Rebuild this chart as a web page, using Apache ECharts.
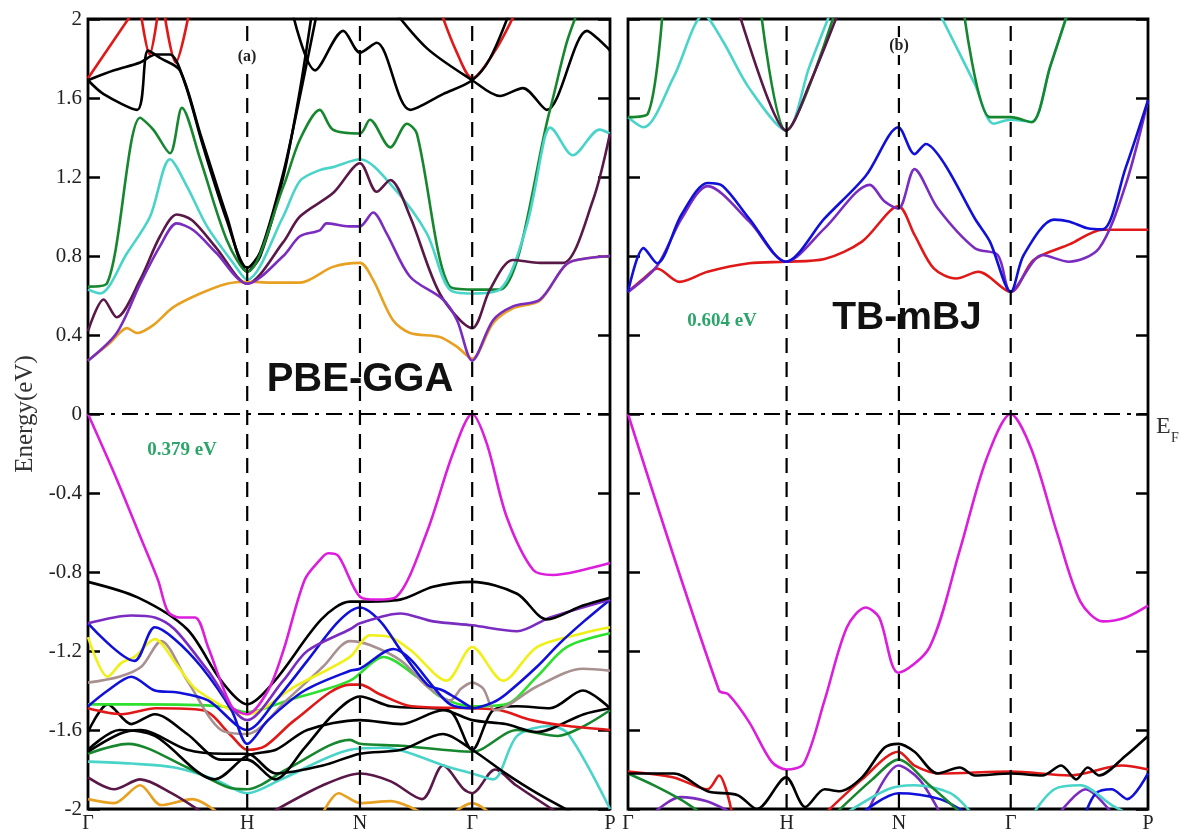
<!DOCTYPE html>
<html><head><meta charset="utf-8">
<script src="https://cdn.jsdelivr.net/npm/echarts@6/dist/echarts.min.js"></script>
<style>html,body{margin:0;padding:0;background:#fff}#c{width:1189px;height:834px}</style>
</head><body><div id="c"></div>
<script>
// ---------- axes ----------
const K_POS = [0, 0.305, 0.521, 0.736, 1.0];
const K_LABELS = ['Γ', 'H', 'N', 'Γ', 'P'];
const E_MIN = -2, E_MAX = 2, E_STEP = 0.4;

// ---------- PBE-GGA (panel a) conduction bands ----------
const gga_cb_orange = [[0,.27],[.042,.36],[.075,.435],[.094,.41],[.125,.45],[.163,.54],[.215,.61],[.266,.66],[.305,.67],[.35,.665],[.406,.665],[.469,.745],[.521,.765],[.546,.68],[.584,.476],[.617,.41],[.674,.39],[.707,.34],[.736,.28],[.776,.46],[.814,.535],[.866,.575],[.917,.76],[.96,.79],[1,.80]];
const gga_cb_purple = [[0,.27],[.055,.41],[.1,.66],[.138,.85],[.17,.965],[.202,.93],[.246,.815],[.305,.66],[.374,.8],[.406,.9],[.444,.93],[.457,.965],[.5,.95],[.521,.95],[.546,1.02],[.572,.915],[.617,.695],[.68,.58],[.707,.475],[.736,.27],[.776,.475],[.814,.545],[.866,.58],[.917,.76],[.96,.79],[1,.80]];
const gga_cb_maroon = [[0,.42],[.03,.58],[.055,.49],[.1,.68],[.138,.9],[.17,1.01],[.2,.98],[.246,.84],[.305,.66],[.374,.87],[.406,1.0],[.47,1.12],[.521,1.27],[.553,1.125],[.579,1.185],[.617,1.0],[.674,.61],[.736,.435],[.77,.63],[.814,.78],[.866,.765],[.91,.765],[.967,1.08],[1,1.42]];
const gga_cb_cyan = [[0,.63],[.023,.61],[.075,.815],[.119,1.0],[.157,1.29],[.19,1.15],[.228,.95],[.278,.765],[.305,.68],[.374,1.0],[.406,1.18],[.444,1.235],[.469,1.25],[.521,1.29],[.584,1.15],[.649,.915],[.693,.63],[.736,.61],[.789,.63],[.84,.95],[.875,1.4],[.885,1.45],[.929,1.31],[.98,1.44],[1,1.42]];
const gga_cb_green = [[0,.645],[.036,.66],[.1,1.5],[.125,1.44],[.157,1.32],[.18,1.55],[.215,1.29],[.266,.88],[.305,.72],[.374,1.15],[.406,1.39],[.444,1.54],[.469,1.44],[.521,1.42],[.54,1.49],[.579,1.35],[.611,1.47],[.63,1.42],[.693,.645],[.736,.63],[.789,.63],[.885,1.54],[.917,1.88],[.94,2.05]];
const gga_cb_black1 = [[0,1.69],[.03,1.62],[.094,1.54],[.115,1.84],[.14,1.8],[.176,1.74],[.215,1.42],[.266,1.0],[.305,.72],[.33,.8],[.374,1.2],[.406,1.64],[.43,2.05]];
const gga_cb_black2 = [[0,1.69],[.05,1.74],[.1,1.78],[.13,1.82],[.157,1.82],[.185,1.68],[.22,1.36],[.266,.98],[.305,.74],[.33,.82],[.374,1.22],[.41,1.66],[.44,2.05]];
const gga_cb_black3 = [[.39,2.05],[.435,1.74],[.489,1.94],[.521,1.83],[.553,1.88],[.617,1.54],[.68,1.62],[.736,1.69],[.77,1.8],[.81,2.05]];
const gga_cb_black4 = [[.584,2.05],[.65,1.85],[.736,1.69],[.789,1.61],[.833,1.65],[.879,1.54],[.956,1.94],[.981,1.89],[1,1.84]];
const gga_cb_red = [[0,1.7],[.09,2.05],null,[.1,2.05],[.118,1.82],[.135,2.05],null,[.145,2.05],[.168,1.78],[.195,2.05],null,[.674,2.05],[.705,1.84],[.736,1.7],[.78,1.84],[.822,2.05]];

// ---------- PBE-GGA (panel a) valence bands ----------
const gga_vb_magenta = [[0,0],[.055,-.33],[.1,-.62],[.134,-.84],[.153,-1.0],[.175,-1.03],[.205,-1.03],[.23,-1.18],[.275,-1.48],[.305,-1.52],[.345,-1.4],[.374,-1.2],[.415,-.84],[.444,-.74],[.46,-.705],[.48,-.72],[.521,-.925],[.553,-.94],[.591,-.925],[.649,-.6],[.699,-.2],[.736,0],[.764,-.15],[.802,-.52],[.853,-.79],[.891,-.815],[.948,-.79],[1,-.755]];
const gga_vb_black1 = [[0,-.85],[.096,-.93],[.19,-1.09],[.255,-1.35],[.305,-1.47],[.358,-1.35],[.447,-1.04],[.502,-.95],[.521,-.95],[.598,-.94],[.661,-.875],[.736,-.85],[.822,-.91],[.879,-1.04],[.948,-.97],[1,-.93]];
const gga_vb_purple = [[0,-1.06],[.083,-1.02],[.128,-1.03],[.166,-1.09],[.23,-1.3],[.305,-1.55],[.374,-1.35],[.42,-1.2],[.502,-1.09],[.521,-1.06],[.598,-1.01],[.661,-1.05],[.736,-1.07],[.822,-1.1],[.885,-1.03],[1,-.94]];
const gga_vb_blue1 = [[0,-1.06],[.089,-1.25],[.128,-1.08],[.166,-1.14],[.217,-1.28],[.275,-1.5],[.305,-1.67],[.345,-1.55],[.415,-1.4],[.502,-1.3],[.521,-1.29],[.585,-1.19],[.617,-1.24],[.661,-1.38],[.694,-1.47],[.736,-1.49],[.776,-1.46],[.8,-1.42],[.86,-1.28],[.904,-1.16],[.95,-1.05],[1,-.94]];
const gga_vb_blue2 = [[0,-1.48],[.038,-1.4],[.083,-1.33],[.128,-1.4],[.172,-1.41],[.23,-1.45],[.305,-1.6],[.36,-1.45],[.42,-1.25],[.48,-1.05],[.521,-.98],[.56,-1.05],[.6,-1.2],[.65,-1.37],[.68,-1.4],[.7,-1.43],[.736,-1.49]];
const gga_vb_yellow = [[0,-1.13],[.038,-1.33],[.064,-1.26],[.089,-1.23],[.128,-1.14],[.17,-1.27],[.21,-1.4],[.305,-1.52],[.396,-1.38],[.502,-1.23],[.54,-1.12],[.58,-1.13],[.62,-1.2],[.687,-1.35],[.736,-1.18],[.795,-1.35],[.86,-1.18],[.948,-1.11],[1,-1.08]];
const gga_vb_gray = [[0,-1.36],[.06,-1.33],[.102,-1.28],[.14,-1.15],[.19,-1.35],[.255,-1.6],[.305,-1.62],[.38,-1.45],[.45,-1.28],[.502,-1.15],[.54,-1.17],[.6,-1.25],[.65,-1.38],[.694,-1.45],[.715,-1.39],[.736,-1.36],[.757,-1.39],[.78,-1.5],[.86,-1.38],[.948,-1.29],[1,-1.3]];
const gga_vb_green = [[0,-1.47],[.1,-1.47],[.255,-1.48],[.305,-1.51],[.383,-1.45],[.502,-1.35],[.566,-1.23],[.63,-1.33],[.674,-1.43],[.736,-1.48],[.8,-1.47],[.86,-1.33],[.917,-1.18],[1,-1.11]];
const gga_vb_red = [[0,-1.49],[.064,-1.52],[.13,-1.49],[.22,-1.5],[.275,-1.63],[.305,-1.7],[.34,-1.68],[.396,-1.55],[.502,-1.37],[.521,-1.37],[.56,-1.42],[.62,-1.48],[.736,-1.49],[.79,-1.5],[.85,-1.55],[.92,-1.58],[1,-1.6]];
const gga_vb_black2 = [[0,-1.61],[.038,-1.47],[.083,-1.57],[.128,-1.52],[.19,-1.62],[.255,-1.75],[.305,-1.75],[.358,-1.85],[.415,-1.69],[.47,-1.52],[.521,-1.43],[.58,-1.48],[.69,-1.5],[.736,-1.70],[.776,-1.5],[.822,-1.48],[.885,-1.49],[.948,-1.4],[1,-1.49]];
const gga_vb_black3 = [[0,-1.70],[.06,-1.6],[.128,-1.63],[.243,-1.85],[.305,-1.73],[.36,-1.7],[.42,-1.6],[.521,-1.55],[.6,-1.57],[.68,-1.5],[.736,-1.55],[.8,-1.57],[.86,-1.61],[.95,-1.52],[1,-1.49]];
const gga_vb_black4 = [[0,-1.71],[.06,-1.62],[.1,-1.6],[.19,-1.7],[.26,-1.72],[.305,-1.72],[.36,-1.82],[.45,-1.78],[.521,-1.72],[.6,-1.7],[.68,-1.62],[.736,-1.70],[.8,-1.82],[.86,-1.92],[.95,-2.05]];
const gga_vb_dgreen = [[0,-1.72],[.077,-1.67],[.19,-1.79],[.268,-1.89],[.305,-1.9],[.38,-1.8],[.502,-1.65],[.521,-1.67],[.6,-1.68],[.736,-1.71],[.822,-1.6],[.9,-1.63],[.95,-1.58],[1,-1.5]];
const gga_vb_cyan = [[0,-1.76],[.083,-1.77],[.166,-1.79],[.243,-1.85],[.305,-1.92],[.37,-1.85],[.502,-1.70],[.566,-1.69],[.694,-1.79],[.736,-1.82],[.776,-1.85],[.822,-1.63],[.885,-1.58],[.92,-1.62],[1,-2.0]];
const gga_vb_dpurple = [[0,-1.84],[.05,-1.9],[.1,-1.85],[.16,-1.92],[.22,-2.02],null,[.35,-2.02],[.45,-1.88],[.521,-1.82],[.58,-1.86],[.64,-1.95],[.68,-1.78],[.72,-1.9],[.736,-1.92],[.78,-1.8],[.82,-1.88],[.9,-2.02]];
const gga_vb_orange = [[0,-1.95],[.05,-1.97],[.1,-1.88],[.14,-1.98],[.2,-1.95],[.25,-2.02],null,[.45,-2.02],[.48,-1.92],[.521,-1.97],[.58,-1.96],[.64,-2.02],null,[.7,-2.02],[.736,-1.97],[.77,-2.02]];

// ---------- TB-mBJ (panel b) ----------
const mbj_cb_red = [[0,.618],[.03,.686],[.056,.737],[.099,.669],[.153,.72],[.233,.763],[.304,.771],[.378,.785],[.45,.873],[.52,1.052],[.551,.907],[.588,.737],[.631,.686],[.674,.72],[.736,.618],[.78,.78],[.85,.86],[.913,.933],[1,.933]];
const mbj_cb_purple = [[0,.618],[.056,.75],[.103,.99],[.153,1.154],[.233,.975],[.304,.771],[.378,.94],[.465,1.16],[.493,1.077],[.52,1.04],[.551,1.24],[.595,1.044],[.667,.839],[.711,.805],[.736,.618],[.797,.805],[.848,.771],[.906,.839],[.957,1.16],[1,1.588]];
const mbj_cb_blue = [[0,.618],[.03,.84],[.056,.763],[.103,1.01],[.153,1.17],[.182,1.155],[.233,.99],[.304,.771],[.378,.99],[.457,1.205],[.52,1.452],[.551,1.316],[.573,1.367],[.609,1.265],[.667,.99],[.696,.873],[.736,.618],[.761,.805],[.819,.984],[.848,.975],[.884,.94],[.913,.935],[.957,1.246],[1,1.588]];
const mbj_cb_cyan = [[0,1.503],[.03,1.452],[.088,1.707],[.146,2.02],[.182,1.89],[.233,1.65],[.304,1.435],[.349,1.76],[.392,2.05],null,[.595,2.05],[.667,1.67],[.703,1.47],[.736,1.49],[.776,1.48],[.812,1.76],[.848,2.05]];
const mbj_cb_green = [[0,1.503],[.038,1.52],[.067,2.05],null,[.255,2.05],[.304,1.435],[.4,2.05],null,[.645,2.05],[.696,1.503],[.736,1.503],[.776,1.477],[.812,1.76],[.848,2.05]];
const mbj_cb_dpurple = [[.211,2.05],[.27,1.59],[.304,1.435],[.349,1.67],[.407,2.05]];
const mbj_vb_magenta = [[0,0],[.175,-1.4],[.193,-1.42],[.233,-1.56],[.276,-1.76],[.305,-1.8],[.338,-1.77],[.378,-1.45],[.421,-1.08],[.457,-.98],[.483,-1.03],[.52,-1.31],[.58,-1.18],[.638,-.69],[.689,-.23],[.736,0],[.776,-.18],[.826,-.61],[.87,-.95],[.913,-1.05],[.957,-1.03],[1,-.97]];
const mbj_vb_black = [[0,-1.82],[.088,-1.82],[.153,-1.91],[.211,-1.93],[.248,-2.0],[.304,-1.84],[.341,-1.99],[.378,-1.9],[.407,-1.91],[.45,-1.84],[.493,-1.69],[.52,-1.67],[.551,-1.71],[.595,-1.82],[.638,-1.79],[.667,-1.83],[.736,-1.82],[.797,-1.83],[.833,-1.78],[.862,-1.85],[.884,-1.79],[.906,-1.83],[.957,-1.73],[1,-1.63]];
const mbj_vb_red = [[0,-1.81],[.088,-1.84],[.153,-1.9],[.175,-1.83],[.2,-2.02],null,[.38,-2.02],[.45,-1.85],[.52,-1.71],[.551,-1.78],[.6,-1.82],[.736,-1.81],[.85,-1.83],[.95,-1.78],[1,-1.8]];
const mbj_vb_dgreen = [[0,-1.82],[.05,-1.88],[.1,-1.95],[.14,-2.02],null,[.4,-2.02],[.47,-1.85],[.52,-1.75],[.58,-1.88],[.64,-2.02]];
const mbj_vb_cyan = [[.42,-2.02],[.5,-1.9],[.55,-1.88],[.62,-1.92],[.66,-2.02],null,[.78,-2.02],[.82,-1.9],[.87,-1.88],[.93,-1.98],[.96,-2.02]];
const mbj_vb_blue = [[.45,-2.02],[.52,-1.92],[.6,-1.95],[.65,-2.02],null,[.88,-2.02],[.9,-1.92],[.93,-1.9],[.96,-1.95],[1,-1.82]];
const mbj_vb_purple = [[.05,-2.02],[.1,-1.94],[.15,-1.96],[.2,-2.02],null,[.46,-2.02],[.52,-1.78],[.56,-1.85],[.6,-2.02],null,[.83,-2.02],[.88,-1.9],[.93,-2.02]];

// ---------- colours ----------
const C = {
  black:'#000000', red:'#e01818', green:'#17872f', cyan:'#48d4c8', purple:'#7a2cc0', maroon:'#5a1848',
  orange:'#e8a020', magenta:'#dc1edc', blue:'#1010d8', yellow:'#f0f018', lime:'#2ee02e', gray:'#a89090'
};

const BANDS = [
  // panel 0
  [0, gga_vb_orange, C.orange], [0, gga_vb_dpurple, C.maroon], [0, gga_vb_cyan, C.cyan], [0, gga_vb_dgreen, C.green],
  [0, gga_vb_black4, C.black], [0, gga_vb_black3, C.black], [0, gga_vb_black2, C.black],
  [0, gga_vb_red, C.red], [0, gga_vb_green, C.lime], [0, gga_vb_gray, C.gray], [0, gga_vb_yellow, C.yellow],
  [0, gga_vb_blue2, C.blue], [0, gga_vb_blue1, C.blue], [0, gga_vb_purple, C.purple], [0, gga_vb_black1, C.black],
  [0, gga_vb_magenta, C.magenta],
  [0, gga_cb_red, C.red], [0, gga_cb_black4, C.black], [0, gga_cb_black3, C.black], [0, gga_cb_black2, C.black],
  [0, gga_cb_black1, C.black], [0, gga_cb_green, C.green], [0, gga_cb_cyan, C.cyan], [0, gga_cb_maroon, C.maroon],
  [0, gga_cb_orange, C.orange], [0, gga_cb_purple, C.purple],
  // panel 1
  [1, mbj_vb_purple, C.purple], [1, mbj_vb_blue, C.blue], [1, mbj_vb_cyan, C.cyan], [1, mbj_vb_dgreen, C.green],
  [1, mbj_vb_red, C.red], [1, mbj_vb_black, C.black], [1, mbj_vb_magenta, C.magenta],
  [1, mbj_cb_cyan, C.cyan], [1, mbj_cb_green, C.green], [1, mbj_cb_dpurple, C.maroon],
  [1, mbj_cb_red, C.red], [1, mbj_cb_purple, C.purple], [1, mbj_cb_blue, C.blue]
];

function pieces(arr) {
  const out = []; let cur = [];
  arr.forEach(p => { if (p === null) { if (cur.length) out.push(cur); cur = []; } else cur.push(p); });
  if (cur.length) out.push(cur);
  return out;
}

const series = [];
BANDS.forEach(([panel, data, color]) => {
  pieces(data).forEach(d => series.push({
    type: 'line', xAxisIndex: panel, yAxisIndex: panel * 2, data: d, smooth: 0.3,
    showSymbol: false, symbol: 'none', silent: true, clip: true,
    lineStyle: { color: color, width: 2.6 }
  }));
});
// guide lines
[0, 1].forEach(panel => {
  K_POS.slice(1, 4).forEach(k => series.push({
    type: 'line', xAxisIndex: panel, yAxisIndex: panel * 2, data: [[k, E_MIN], [k, E_MAX]],
    showSymbol: false, symbol: 'none', silent: true, z: 5,
    lineStyle: { color: '#000', width: 2.2, type: [15, 9] }
  }));
  series.push({
    type: 'line', xAxisIndex: panel, yAxisIndex: panel * 2, data: [[0, 0], [1, 0]],
    showSymbol: false, symbol: 'none', silent: true, z: 5,
    lineStyle: { color: '#000', width: 2.2, type: [16, 7, 4, 7] }
  });
});

const serif = '"Liberation Serif", "DejaVu Serif", serif';
const fmtE = v => String(Math.round(v * 10) / 10);

function xAxis(gi) {
  return {
    type: 'value', gridIndex: gi, min: 0, max: 1,
    axisLine: { show: false }, axisTick: { show: false }, splitLine: { show: false },
    axisLabel: {
      customValues: K_POS, showMinLabel: true, showMaxLabel: true, margin: 5,
      fontFamily: serif, fontSize: 20, color: '#222',
      formatter: v => { const i = K_POS.findIndex(k => Math.abs(k - v) < 1e-6); return i >= 0 ? K_LABELS[i] : ''; }
    }
  };
}
function yAxis(gi, pos, labels) {
  return {
    type: 'value', gridIndex: gi, position: pos, min: E_MIN, max: E_MAX, interval: E_STEP,
    axisLine: { show: false }, splitLine: { show: false },
    axisTick: { show: true, inside: true, length: 12, lineStyle: { color: '#000', width: 2.5 } },
    axisLabel: { show: labels, fontFamily: serif, fontSize: 21, color: '#222', margin: 6, formatter: fmtE },
    name: labels ? 'Energy(eV)' : '', nameLocation: 'middle', nameGap: 50,
    nameTextStyle: { fontFamily: serif, fontSize: 25, color: '#333' }
  };
}

const chart = echarts.init(document.getElementById('c'), null, { renderer: 'canvas' });
chart.setOption({
  animation: false,
  backgroundColor: '#fff',
  grid: [
    { left: 88, top: 19, width: 522, height: 790, show: true, borderColor: '#000', borderWidth: 2.8, backgroundColor: 'transparent' },
    { left: 628, top: 19, width: 520, height: 790, show: true, borderColor: '#000', borderWidth: 2.8, backgroundColor: 'transparent' }
  ],
  xAxis: [xAxis(0), xAxis(1)],
  yAxis: [yAxis(0, 'left', true), yAxis(0, 'right', false), yAxis(1, 'left', false), yAxis(1, 'right', false)],
  series: series,
  graphic: [
    { type: 'text', z: 100, style: { text: '(a)', x: 247, y: 57, align: 'center', verticalAlign: 'middle', font: 'bold 16px ' + serif, fill: '#222', backgroundColor: '#fff', padding: [1, 1] } },
    { type: 'text', z: 100, style: { text: '(b)', x: 899, y: 46, align: 'center', verticalAlign: 'middle', font: 'bold 16px ' + serif, fill: '#222', backgroundColor: '#fff', padding: [1, 1] } },
    { type: 'text', z: 100, style: { text: 'PBE-GGA', x: 360, y: 380, align: 'center', verticalAlign: 'middle', font: 'bold 40px "Liberation Sans", Arial, sans-serif', fill: '#111' } },
    { type: 'text', z: 100, style: { text: 'TB-mBJ', x: 907, y: 318, align: 'center', verticalAlign: 'middle', font: 'bold 39px "Liberation Sans", Arial, sans-serif', fill: '#111' } },
    { type: 'text', z: 100, style: { text: '0.379 eV', x: 182, y: 450, align: 'center', verticalAlign: 'middle', font: 'bold 19px ' + serif, fill: '#2ca56a' } },
    { type: 'text', z: 100, style: { text: '0.604 eV', x: 722, y: 321, align: 'center', verticalAlign: 'middle', font: 'bold 19px ' + serif, fill: '#2ca56a' } },
    { type: 'text', z: 100, style: { text: 'E', x: 1156, y: 427, align: 'left', verticalAlign: 'middle', font: '24px ' + serif, fill: '#333' } },
    { type: 'text', z: 100, style: { text: 'F', x: 1171, y: 438, align: 'left', verticalAlign: 'middle', font: '14px ' + serif, fill: '#333' } }
  ]
});
</script>
</body></html>
